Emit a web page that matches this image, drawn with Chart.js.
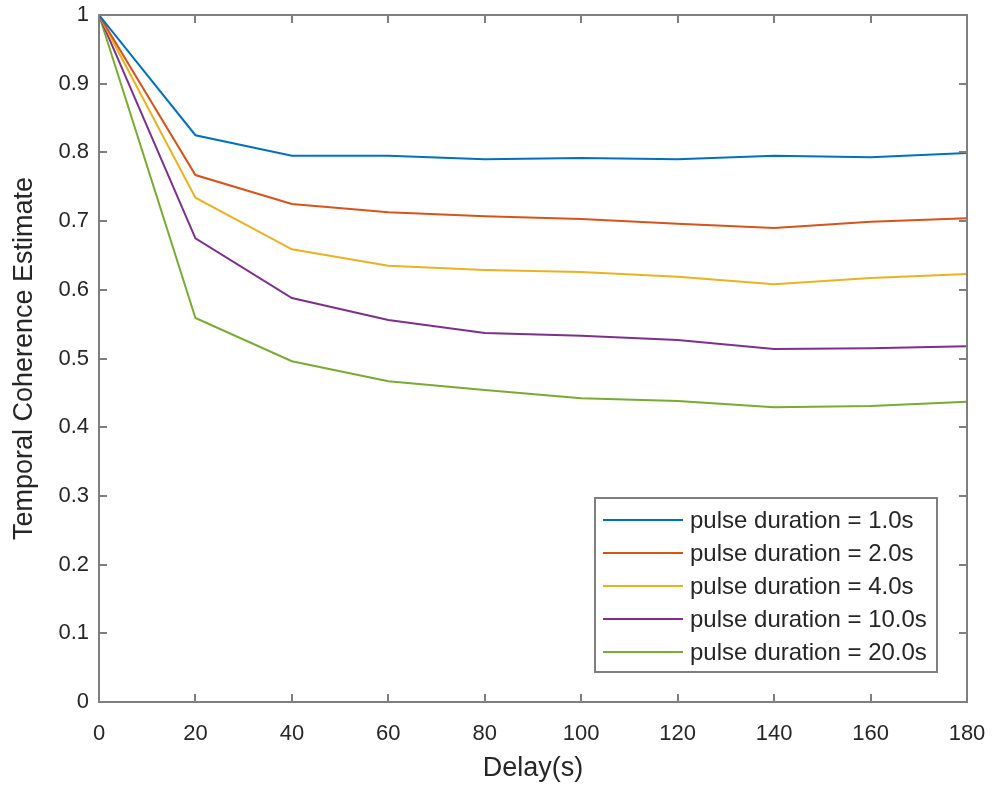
<!DOCTYPE html>
<html>
<head>
<meta charset="utf-8">
<script src="https://cdn.jsdelivr.net/npm/chart.js@4.4.1/dist/chart.umd.min.js"></script>
<style>
  html, body { margin: 0; padding: 0; background: #ffffff; }
  #wrap { width: 992px; height: 789px; position: relative; }
</style>
</head>
<body>
<div id="wrap"><canvas id="c"></canvas></div>
<script>
// ---- Data ----
const delays = [0, 20, 40, 60, 80, 100, 120, 140, 160, 180];
const pulse1s  = [1.0, 0.825, 0.795, 0.795, 0.790, 0.792, 0.790, 0.795, 0.793, 0.799];
const pulse2s  = [1.0, 0.767, 0.725, 0.713, 0.707, 0.703, 0.696, 0.690, 0.699, 0.704];
const pulse4s  = [1.0, 0.734, 0.659, 0.635, 0.629, 0.626, 0.619, 0.608, 0.617, 0.623];
const pulse10s = [1.0, 0.675, 0.588, 0.556, 0.537, 0.533, 0.527, 0.514, 0.515, 0.518];
const pulse20s = [1.0, 0.559, 0.496, 0.467, 0.454, 0.442, 0.438, 0.429, 0.431, 0.437];
const seriesLabels = [
  'pulse duration = 1.0s',
  'pulse duration = 2.0s',
  'pulse duration = 4.0s',
  'pulse duration = 10.0s',
  'pulse duration = 20.0s'
];
const xTickValues = [0, 20, 40, 60, 80, 100, 120, 140, 160, 180];
const yTickValues = [0, 0.1, 0.2, 0.3, 0.4, 0.5, 0.6, 0.7, 0.8, 0.9, 1];
const xTitle = 'Delay(s)';
const yTitle = 'Temporal Coherence Estimate';

const seriesValues = [pulse1s, pulse2s, pulse4s, pulse10s, pulse20s];
const colors = ['#0072BD', '#D95319', '#EDB120', '#7E2F8E', '#77AC30'];

const AXIS_COLOR = '#7f7f7f';
const TEXT_COLOR = '#262626';
const FONT = '"Liberation Sans", Arial, Helvetica, sans-serif';

const datasets = seriesValues.map((vals, i) => ({
  label: seriesLabels[i],
  data: delays.map((d, j) => ({ x: d, y: vals[j] })),
  borderColor: colors[i],
  backgroundColor: colors[i],
  borderWidth: 2,
  pointRadius: 0,
  tension: 0,
  fill: false
}));

// Box + inward ticks on all four sides (MATLAB style)
const boxAxesPlugin = {
  id: 'boxAxes',
  afterDatasetsDraw(chart) {
    const { ctx, chartArea: a, scales } = chart;
    const tl = 8;
    ctx.save();
    ctx.strokeStyle = AXIS_COLOR;
    ctx.lineWidth = 2;
    ctx.beginPath();
    xTickValues.forEach(v => {
      const px = Math.round(scales.x.getPixelForValue(v));
      ctx.moveTo(px, a.bottom); ctx.lineTo(px, a.bottom - tl);
      ctx.moveTo(px, a.top); ctx.lineTo(px, a.top + tl);
    });
    yTickValues.forEach(v => {
      const py = Math.round(scales.y.getPixelForValue(v));
      ctx.moveTo(a.left, py); ctx.lineTo(a.left + tl, py);
      ctx.moveTo(a.right, py); ctx.lineTo(a.right - tl, py);
    });
    ctx.stroke();
    ctx.strokeRect(a.left, a.top, a.right - a.left, a.bottom - a.top);
    ctx.restore();
  }
};

// Legend inside the plot at the lower right
const insideLegendPlugin = {
  id: 'insideLegend',
  afterDraw(chart) {
    const { ctx } = chart;
    const bx = 595, by = 498, bw = 342, bh = 174;
    ctx.save();
    ctx.fillStyle = '#ffffff';
    ctx.fillRect(bx, by, bw, bh);
    ctx.strokeStyle = AXIS_COLOR;
    ctx.lineWidth = 2;
    ctx.strokeRect(bx, by, bw, bh);
    ctx.font = '24px ' + FONT;
    ctx.textBaseline = 'middle';
    ctx.textAlign = 'left';
    chart.data.datasets.forEach((ds, i) => {
      const cy = 520 + i * 33;
      ctx.strokeStyle = ds.borderColor;
      ctx.lineWidth = 2;
      ctx.beginPath();
      ctx.moveTo(603, cy);
      ctx.lineTo(683, cy);
      ctx.stroke();
      ctx.fillStyle = TEXT_COLOR;
      ctx.fillText(ds.label, 690, cy + 1);
    });
    ctx.restore();
  }
};

new Chart(document.getElementById('c'), {
  type: 'line',
  data: { datasets },
  plugins: [boxAxesPlugin, insideLegendPlugin],
  options: {
    responsive: true,
    maintainAspectRatio: false,
    animation: false,
    layout: { padding: { top: 15, right: 25, left: 0, bottom: 0 } },
    plugins: {
      legend: { display: false },
      tooltip: { enabled: false },
      title: { display: false }
    },
    scales: {
      x: {
        type: 'linear',
        min: 0,
        max: 180,
        afterFit(s) { s.height = 87; s.paddingLeft = 0; s.paddingRight = 0; },
        afterBuildTicks(s) { s.ticks = xTickValues.map(v => ({ value: v })); },
        grid: { display: false, drawTicks: false },
        border: { display: false },
        ticks: {
          padding: 19,
          color: TEXT_COLOR,
          font: { family: FONT, size: 22 },
          maxRotation: 0,
          autoSkip: false,
          callback: v => String(v)
        },
        title: {
          display: true,
          text: xTitle,
          color: TEXT_COLOR,
          font: { family: FONT, size: 27 },
          padding: { top: 0, bottom: 4 }
        }
      },
      y: {
        type: 'linear',
        min: 0,
        max: 1,
        afterFit(s) { s.width = 99; s.paddingTop = 0; s.paddingBottom = 0; },
        afterBuildTicks(s) { s.ticks = yTickValues.map(v => ({ value: v })); },
        grid: { display: false, drawTicks: false },
        border: { display: false },
        ticks: {
          padding: 10,
          color: TEXT_COLOR,
          font: { family: FONT, size: 22 },
          autoSkip: false,
          callback: v => (v === 0 || v === 1) ? String(v) : Number(v).toFixed(1)
        },
        title: {
          display: true,
          text: yTitle,
          color: TEXT_COLOR,
          font: { family: FONT, size: 27 },
          padding: { top: 8, bottom: 0 }
        }
      }
    }
  }
});
</script>
</body>
</html>
